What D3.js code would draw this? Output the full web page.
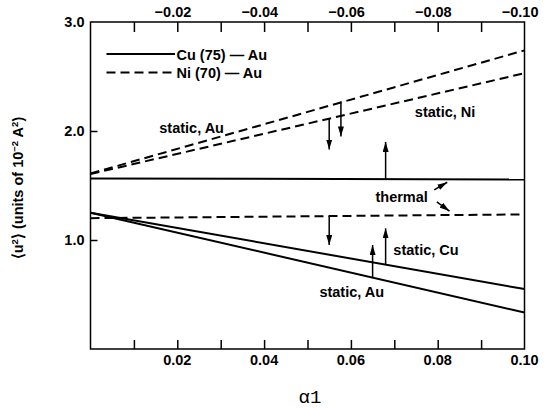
<!DOCTYPE html>
<html>
<head>
<meta charset="utf-8">
<script src="https://cdn.jsdelivr.net/npm/d3@7"></script>
<style>
  body { margin: 0; background: #fff; }
  text { font-family: "Liberation Sans", Arial, sans-serif; font-weight: bold; fill: #000; }
</style>
</head>
<body>
<div id="chart"></div>
<script>
// data
var xEnds = [0, 0.10];
var cuThermal = [1.565, 1.555];
var niThermal = [1.20, 1.235];
var cuStaticCu = [1.25, 0.55];
var cuStaticAu = [1.25, 0.335];
var niStaticNi = [1.605, 2.53];
var niStaticAu = [1.61, 2.74];

var bottomTicks = [0.01, 0.02, 0.03, 0.04, 0.05, 0.06, 0.07, 0.08, 0.09];
var bottomLabels = [0.02, 0.04, 0.06, 0.08, 0.10];
var topTicks = [-0.01, -0.02, -0.03, -0.04, -0.05, -0.06, -0.07, -0.08, -0.09];
var topLabels = [-0.02, -0.04, -0.06, -0.08, -0.10];
var yTicks = [1.0, 2.0];
var yLabels = [1.0, 2.0, 3.0];

// vertical arrows: [x, from, to]
var arrows = [
  [0.055, 2.12, 1.83],
  [0.0577, 2.27, 1.95],
  [0.068, 1.56, 1.90],
  [0.055, 1.22, 0.954],
  [0.065, 0.65, 0.954],
  [0.068, 0.78, 1.107]
];
// thermal pointers: [x0, y0, x1, y1]
var pointers = [
  [0.0792, 1.46, 0.0822, 1.53],
  [0.0798, 1.35, 0.0827, 1.265]
];

var labels = [
  { t: "static, Au", x: 0.0233, y: 1.985 },
  { t: "static, Ni", x: 0.0817, y: 2.13 },
  { t: "thermal", x: 0.0717, y: 1.352 },
  { t: "static, Cu", x: 0.0773, y: 0.862 },
  { t: "static, Au", x: 0.0602, y: 0.475 }
];

var W = 545, H = 408;
var x = d3.scaleLinear().domain([0, 0.10]).range([90.5, 524.5]);
var xTop = d3.scaleLinear().domain([0, -0.10]).range([90.5, 524.5]);
var y = d3.scaleLinear().domain([0, 3]).range([349, 22]);

var svg = d3.select("#chart").append("svg")
  .attr("width", W)
  .attr("height", H);

svg.append("defs").append("marker")
  .attr("id", "head")
  .attr("markerUnits", "userSpaceOnUse")
  .attr("viewBox", "0 0 10 6")
  .attr("refX", 10).attr("refY", 3)
  .attr("markerWidth", 10).attr("markerHeight", 6)
  .attr("orient", "auto")
  .append("path")
  .attr("d", "M0,0 L10,3 L0,6 Z")
  .attr("fill", "#000");

// frame
svg.append("rect")
  .attr("x", x(0)).attr("y", y(3))
  .attr("width", x(0.10) - x(0)).attr("height", y(0) - y(3))
  .attr("fill", "none").attr("stroke", "#000").attr("stroke-width", 1.5);

// ticks
svg.append("g")
  .attr("transform", "translate(0," + y(0) + ")")
  .call(d3.axisBottom(x).tickValues(bottomTicks).tickSize(-9).tickFormat(""))
  .call(g => g.select(".domain").remove());

svg.append("g")
  .attr("transform", "translate(0," + y(3) + ")")
  .call(d3.axisTop(xTop).tickValues(topTicks).tickSize(-10).tickFormat(""))
  .call(g => g.select(".domain").remove());

svg.append("g")
  .attr("transform", "translate(" + x(0) + ",0)")
  .call(d3.axisLeft(y).tickValues(yTicks).tickSize(-7).tickFormat(""))
  .call(g => g.select(".domain").remove());

svg.selectAll(".tick line").attr("stroke-width", 1.5);

// tick labels
svg.selectAll(".bl").data(bottomLabels).enter().append("text")
  .attr("x", d => x(d)).attr("y", 364.5)
  .attr("text-anchor", "middle").attr("font-size", 14.5)
  .text(d => d.toFixed(2));

svg.selectAll(".tl").data(topLabels).enter().append("text")
  .attr("x", d => xTop(d) + 14).attr("y", 17)
  .attr("text-anchor", "end").attr("font-size", 14.5)
  .text(d => "\u2212" + Math.abs(d).toFixed(2));

svg.selectAll(".yl").data(yLabels).enter().append("text")
  .attr("x", x(0) - 6).attr("y", d => y(d) + 5)
  .attr("text-anchor", "end").attr("font-size", 14.5)
  .text(d => d.toFixed(1));

// series lines
var line = d3.line().x((d, i) => x(xEnds[i])).y(d => y(d));
var series = [
  { v: cuThermal, dash: null },
  { v: niThermal, dash: "9,5" },
  { v: cuStaticCu, dash: null },
  { v: cuStaticAu, dash: null },
  { v: niStaticNi, dash: "9,5" },
  { v: niStaticAu, dash: "9,5" }
];
svg.selectAll(".series").data(series).enter().append("path")
  .attr("d", d => line(d.v))
  .attr("fill", "none").attr("stroke", "#000").attr("stroke-width", 2)
  .attr("stroke-dasharray", d => d.dash);

// arrows
svg.selectAll(".arrow").data(arrows).enter().append("line")
  .attr("x1", d => x(d[0])).attr("x2", d => x(d[0]))
  .attr("y1", d => y(d[1])).attr("y2", d => y(d[2]))
  .attr("stroke", "#000").attr("stroke-width", 1.5)
  .attr("marker-end", "url(#head)");

svg.selectAll(".ptr").data(pointers).enter().append("line")
  .attr("x1", d => x(d[0])).attr("y1", d => y(d[1]))
  .attr("x2", d => x(d[2])).attr("y2", d => y(d[3]))
  .attr("stroke", "#000").attr("stroke-width", 1.5)
  .attr("marker-end", "url(#head)");

// annotation text
svg.selectAll(".ann").data(labels).enter().append("text")
  .attr("x", d => x(d.x)).attr("y", d => y(d.y))
  .attr("text-anchor", "middle").attr("font-size", 14.5)
  .text(d => d.t);

// legend
svg.append("line").attr("x1", 106.5).attr("x2", 175).attr("y1", 54).attr("y2", 54)
  .attr("stroke", "#000").attr("stroke-width", 2);
svg.append("line").attr("x1", 106.5).attr("x2", 175).attr("y1", 72.5).attr("y2", 72.5)
  .attr("stroke", "#000").attr("stroke-width", 2).attr("stroke-dasharray", "9,5");
svg.append("text").attr("x", 176.5).attr("y", 59.5).attr("font-size", 14.5).text("Cu (75) \u2014 Au");
svg.append("text").attr("x", 176.5).attr("y", 78).attr("font-size", 14.5).text("Ni (70) \u2014 Au");

// axis titles
var yt = svg.append("text")
  .attr("transform", "translate(23,188) rotate(-90)")
  .attr("text-anchor", "middle").attr("font-size", 14.5);
yt.append("tspan").text("\u27e8u");
yt.append("tspan").attr("dy", -5).attr("font-size", 9.5).text("2");
yt.append("tspan").attr("dy", 5).text("\u27e9 (units of 10");
yt.append("tspan").attr("dy", -5).attr("font-size", 9.5).text("\u22122");
yt.append("tspan").attr("dy", 5).text(" A");
yt.append("tspan").attr("dy", -5).attr("font-size", 9.5).text("2");
yt.append("tspan").attr("dy", 5).text(")");

svg.append("text")
  .attr("x", 310).attr("y", 402.5)
  .attr("text-anchor", "middle")
  .style("font-family", "'Liberation Mono', 'DejaVu Sans Mono', monospace")
  .style("font-weight", "normal")
  .attr("font-size", 19)
  .text("\u03b11");
</script>
</body>
</html>
